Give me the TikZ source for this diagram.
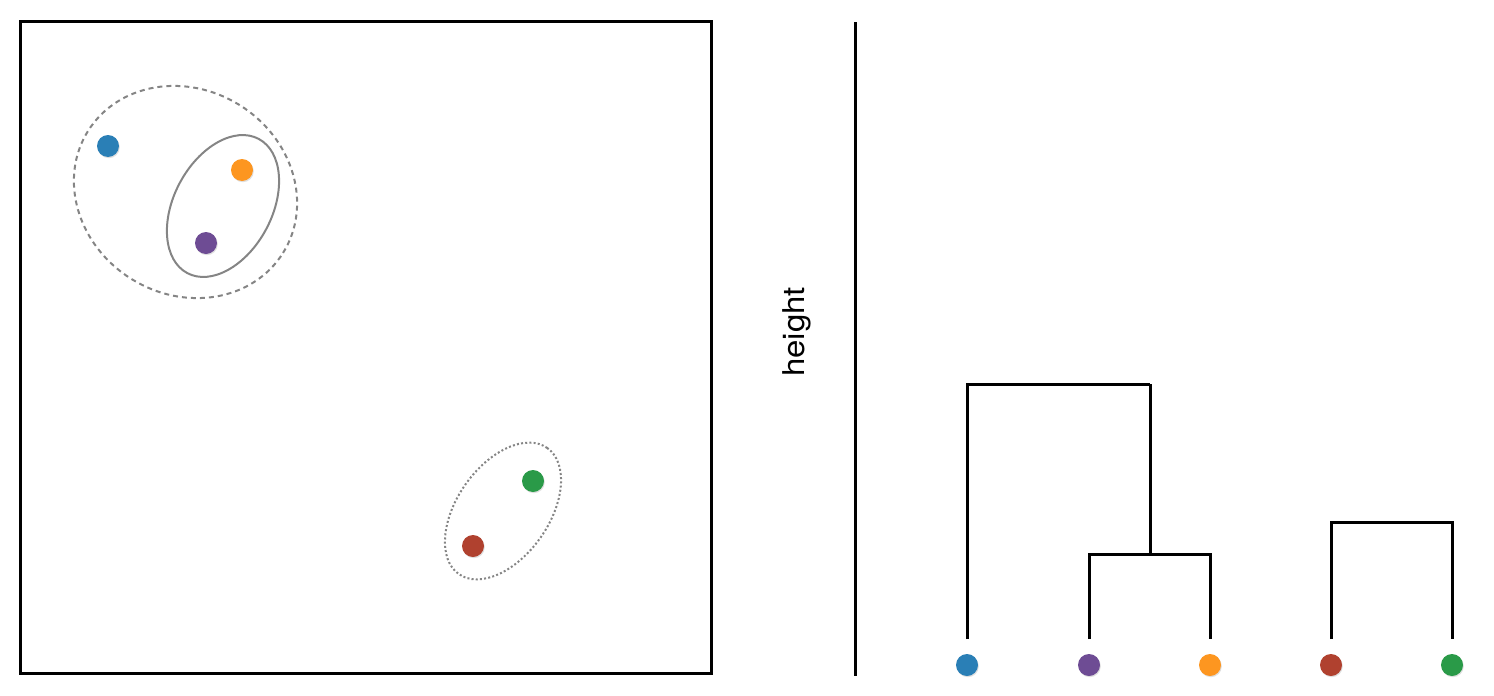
\documentclass[tikz,border=0pt]{standalone}
\usepackage{fontspec}
\setmainfont{TeX Gyre Heros}
\usetikzlibrary{shadows}
\definecolor{cblue}{HTML}{2A7FB6}
\definecolor{cpurple}{HTML}{6E4C94}
\definecolor{corange}{HTML}{FD9620}
\definecolor{cred}{HTML}{B0412F}
\definecolor{cgreen}{HTML}{2A9A48}
\definecolor{cgray}{HTML}{858585}
\tikzset{
  dot/.style={circle, inner sep=0pt, minimum size=22pt,
    drop shadow={opacity=0.25, shadow xshift=0.8pt, shadow yshift=-1.2pt}},
  frame/.style={line width=3pt, line join=miter},
  dendro/.style={line width=3pt, line join=miter},
  hull/.style={cgray, line width=2pt},
  hulldash/.style={cgray, line width=2pt, dash pattern=on 5pt off 4pt},
  hulldot/.style={cgray, line width=2pt, dash pattern=on 2pt off 2.2pt},
}
\begin{document}
\begin{tikzpicture}[x=1pt,y=-1pt]
\useasboundingbox (0,0) rectangle (1494,696);
% left panel frame
\draw[frame] (20,21) rectangle (711,673);
% cluster hulls
\draw[hulldash, rotate around={-32:(185.5,192)}] (185.5,192) ellipse [x radius=115pt, y radius=102.4pt];
\draw[hull, rotate around={62:(223,206)}] (223,206) ellipse [x radius=76pt, y radius=49pt];
\draw[hulldot, rotate around={55:(503,511)}] (503,511) ellipse [x radius=77pt, y radius=46pt];
% points
\node[dot, fill=cblue] (pb) at (108,146) {};
\node[dot, fill=corange] (po) at (242,170) {};
\node[dot, fill=cpurple] (pp) at (206,243) {};
\node[dot, fill=cgreen] (pg) at (533,481) {};
\node[dot, fill=cred] (pr) at (473,546) {};
% axis
\coordinate (axtop) at (855,22);
\coordinate (axbot) at (855,676);
\draw[frame] (axtop) -- (axbot);
\node[rotate=90, font=\fontsize{30}{32}\selectfont, inner sep=0pt] (hlabel) at (797,332) {\scalebox{1.1}[1]{height}};
% leaves
\node[dot, fill=cblue] (lb) at (967,665) {};
\node[dot, fill=cpurple] (lp) at (1089,665) {};
\node[dot, fill=corange] (lo) at (1210,665) {};
\node[dot, fill=cred] (lr) at (1331,665) {};
\node[dot, fill=cgreen] (lg) at (1452,665) {};
\coordinate (tb) at (967,639);
\coordinate (tp) at (1089,639);
\coordinate (to) at (1210,639);
\coordinate (tr) at (1331,639);
\coordinate (tg) at (1452,639);
\coordinate (mpo) at (1150,554);
\coordinate (mtop) at (1150,384);
\coordinate (mrg) at (1391,522);
% dendrogram
\draw[dendro] (tp) |- (mpo) -| (to);
\draw[dendro] (mpo) -- (mtop);
\draw[dendro] (tb) |- (mtop);
\draw[dendro] (tr) |- (mrg) -| (tg);
\end{tikzpicture}
\end{document}
